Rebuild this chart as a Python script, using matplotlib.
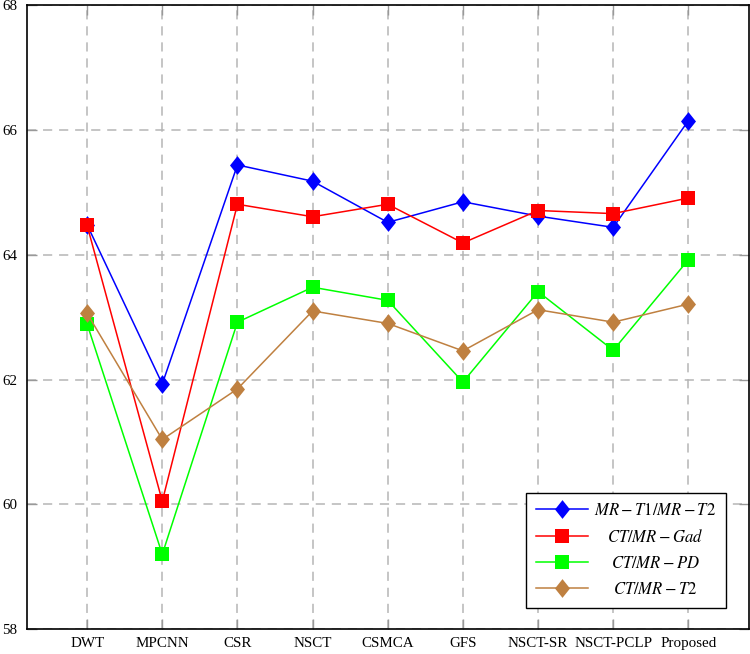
import matplotlib
matplotlib.use("Agg")
import matplotlib.pyplot as plt

methods = ["DWT", "MPCNN", "CSR", "NSCT", "CSMCA", "GFS", "NSCT-SR", "NSCT-PCLP", "Proposed"]
mr_t1_t2 = [64.48, 61.93, 65.44, 65.18, 64.52, 64.85, 64.62, 64.44, 66.15]
ct_gad = [64.47, 60.05, 64.81, 64.61, 64.81, 64.19, 64.71, 64.66, 64.91]
ct_pd = [62.89, 59.20, 62.92, 63.48, 63.27, 61.96, 63.41, 62.47, 63.92]
ct_t2 = [63.06, 61.04, 61.85, 63.10, 62.90, 62.46, 63.12, 62.92, 63.21]
y_ticks = [58, 60, 62, 64, 66, 68]

plt.rcParams["font.family"] = ["Liberation Serif", "DejaVu Serif"]
plt.rcParams["mathtext.fontset"] = "stix"

# diamond a bit taller than wide, as in the original
diamond = [(0, 1), (0.8, 0), (0, -1), (-0.8, 0), (0, 1)]

fig = plt.figure(figsize=(7.5, 6.54), dpi=100)
ax = fig.add_axes([0.036, 0.038, 0.962, 0.954])

x = list(range(len(methods)))
series = [
    (mr_t1_t2, "#0000ff", diamond, 13.5, r"$MR-T1/MR-T2$"),
    (ct_gad, "#ff0000", "s", 9.5, r"$CT/MR-Gad$"),
    (ct_pd, "#00ff00", "s", 9.5, r"$CT/MR-PD$"),
    (ct_t2, "#bf8040", diamond, 13.5, r"$CT/MR-T2$"),
]
for vals, col, mk, ms, lab in series:
    ax.plot(x, vals, color=col, marker=mk, markersize=ms, linewidth=1.1,
            markeredgewidth=0, label=lab, zorder=3)

ax.set_xlim(-0.8, 8.8)
ax.set_ylim(58, 68)
ax.set_xticks(x)
ax.set_xticklabels(methods)
ax.set_yticks(y_ticks)
ax.tick_params(direction="in", length=7, width=1, color="#999999",
               labelsize=10.8, top=True, right=True, pad=7)
ax.tick_params(axis="x", pad=6)
ax.grid(True, color="#b5b5b5", linestyle=(0, (6, 4.5)), linewidth=1.1)
for sp in ax.spines.values():
    sp.set_linewidth(1.2)

leg = ax.legend(loc="lower right", fontsize=12, frameon=True, fancybox=False,
                edgecolor="black", framealpha=1, borderpad=0.6,
                labelspacing=0.6, handlelength=3.1, handletextpad=0.4,
                borderaxespad=0, bbox_to_anchor=(0.9695, 0.0337))
leg.get_frame().set_linewidth(1.0)

# centre the legend labels like the original
fig.canvas.draw()
r = fig.canvas.get_renderer()
texts = leg.get_texts()
widths = [t.get_window_extent(r).width for t in texts]
maxw = max(widths)
for t, w in zip(texts, widths):
    t.set_position(((maxw - w) / 2, 0))

fig.savefig("out.png", dpi=100)
